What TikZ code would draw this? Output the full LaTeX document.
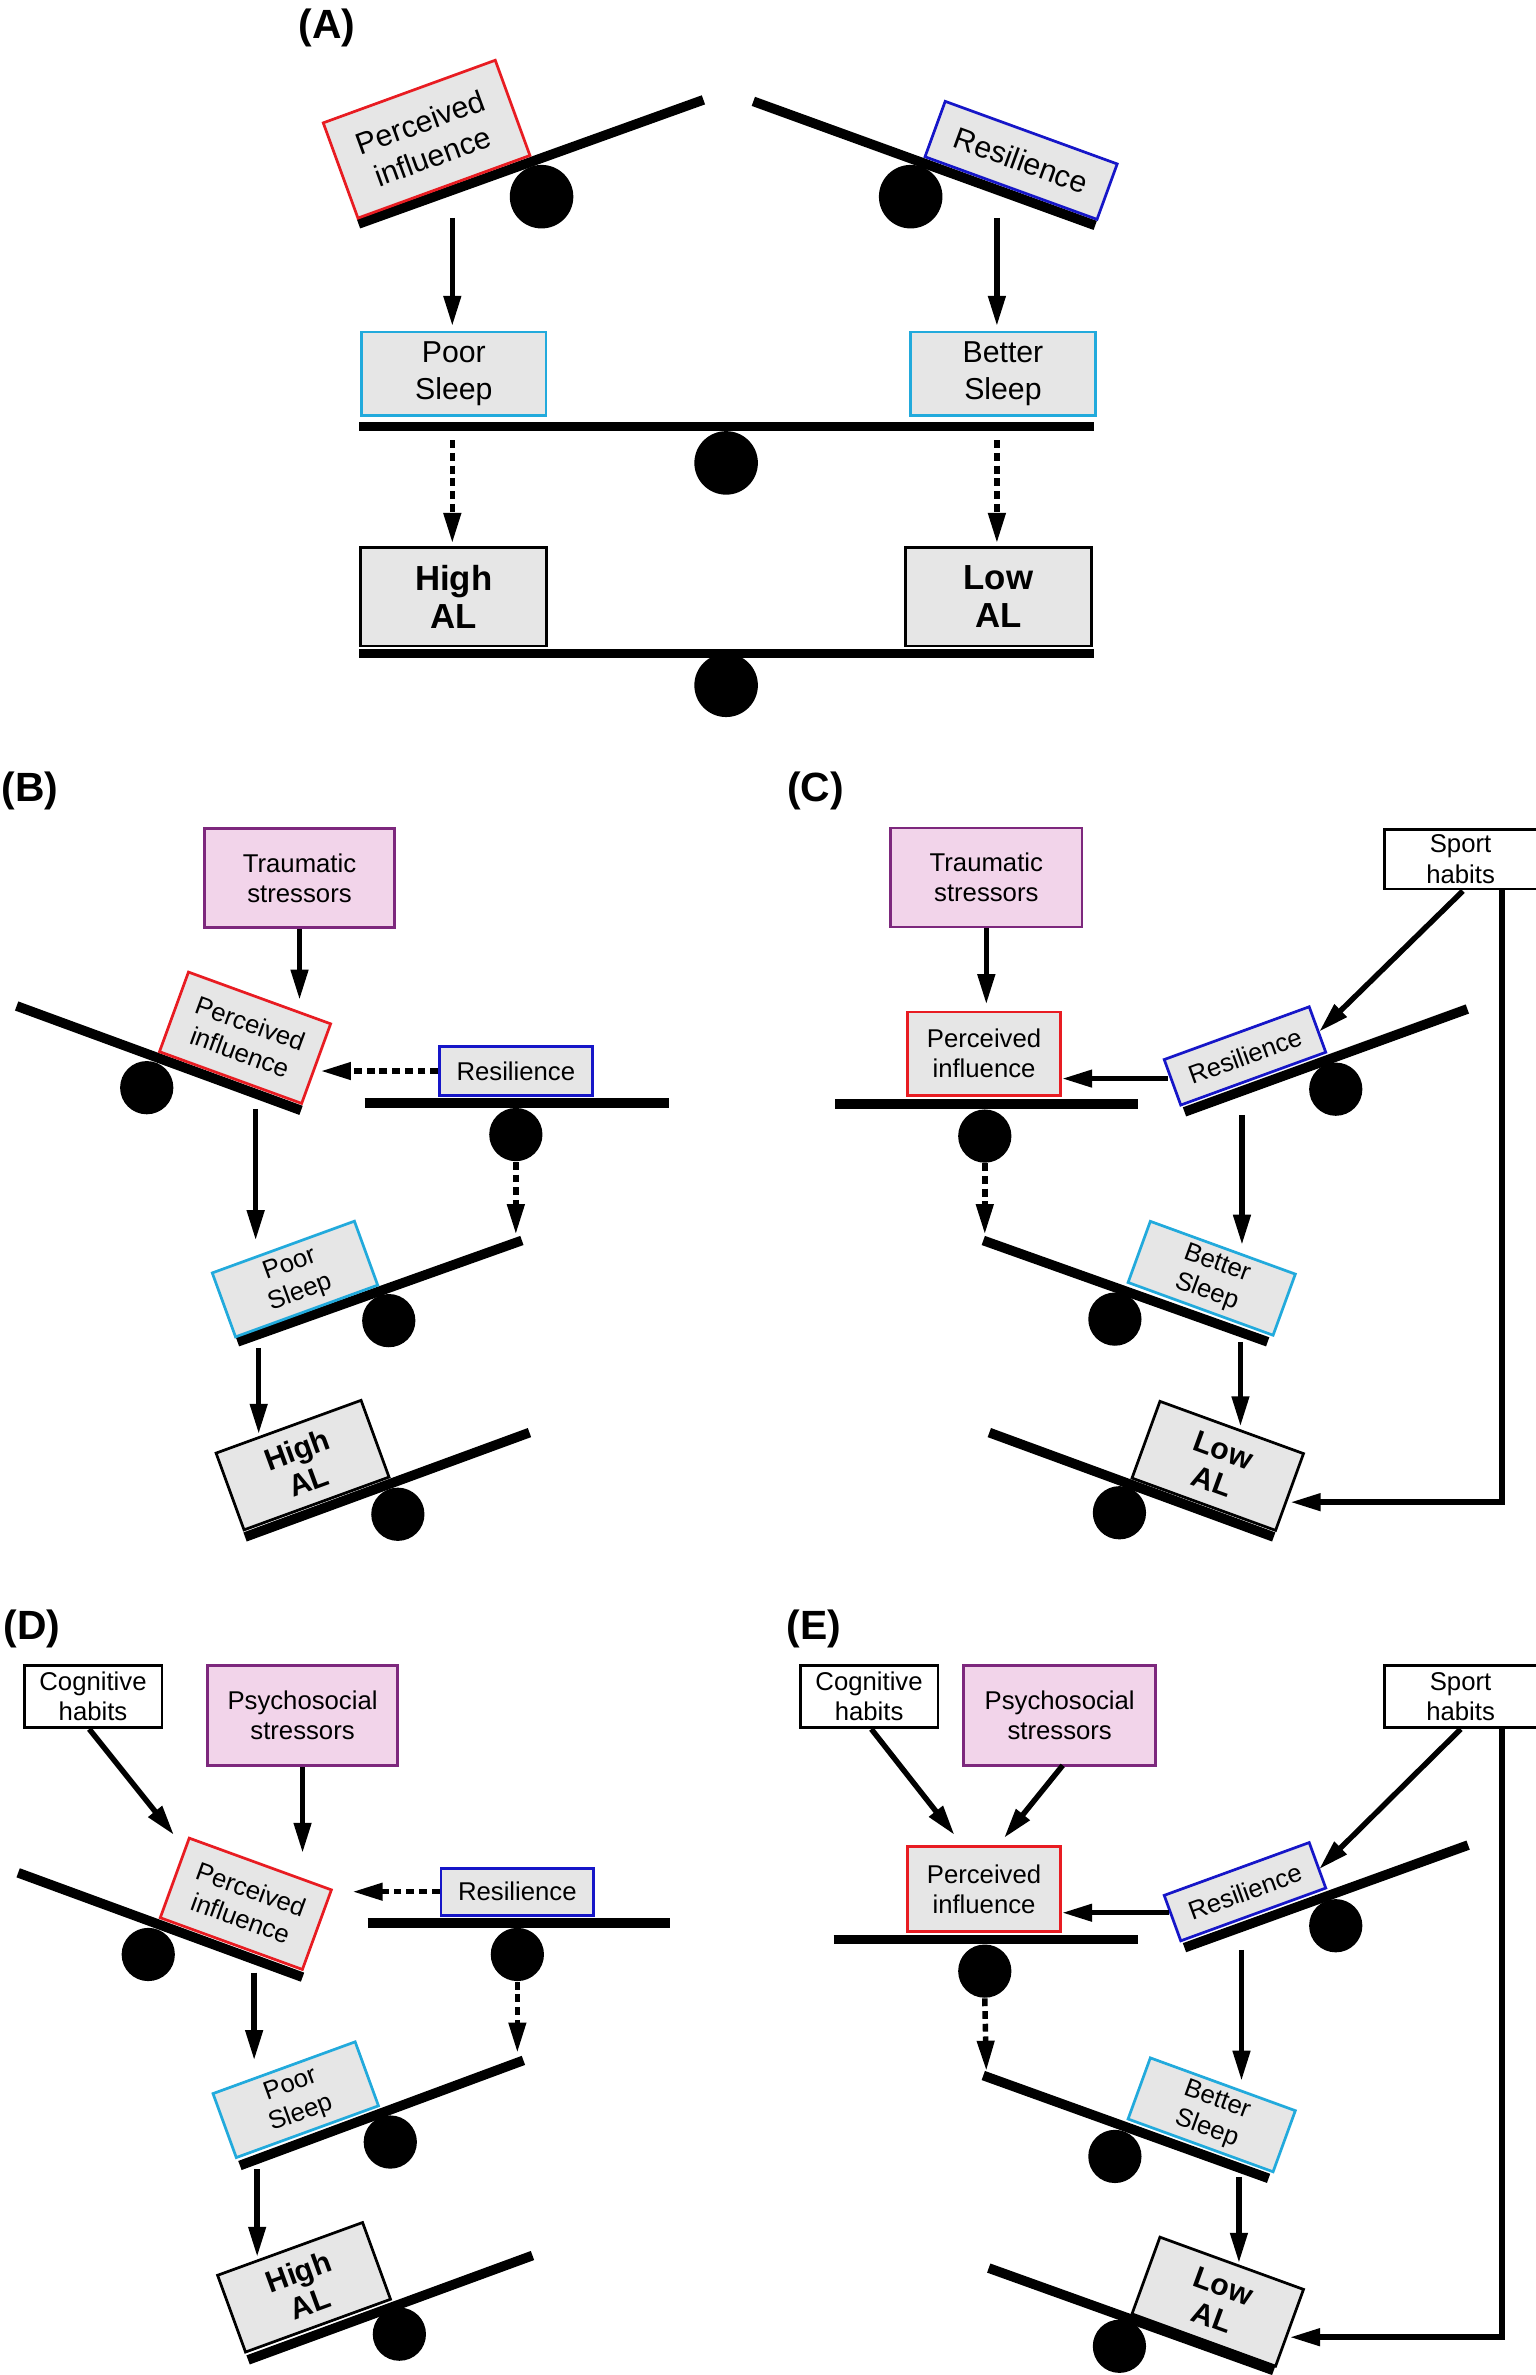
\documentclass[tikz,border=0pt]{standalone}
\usepackage{fontspec}
\setmainfont{Liberation Sans}
\usetikzlibrary{arrows.meta,calc}
\definecolor{boxgray}{RGB}{230,230,230}
\definecolor{pired}{RGB}{232,28,34}
\definecolor{resblue}{RGB}{22,22,200}
\definecolor{sleepcyan}{RGB}{34,170,220}
\definecolor{stressfill}{RGB}{242,212,234}
\definecolor{stressborder}{RGB}{125,40,125}
\tikzset{
  box/.style={draw, fill=boxgray, line width=0.9pt, align=center, inner sep=0pt, font=\fontsize{8.5}{10}\selectfont},
  redbox/.style={box, draw=pired},
  bluebox/.style={box, draw=resblue},
  cyanbox/.style={box, draw=sleepcyan},
  albox/.style={box, draw=black, font=\fontsize{10}{11}\selectfont\bfseries},
  pinkbox/.style={box, draw=stressborder, fill=stressfill},
  habitbox/.style={box, draw=black, fill=white},
  fontA/.style={font=\fontsize{10}{12}\selectfont},
  fontAL/.style={font=\fontsize{11.5}{12.5}\selectfont\bfseries},
  lever/.style={line width=3.2pt},
  ballA/.style={circle, fill=black, inner sep=0pt, minimum size=21pt},
  ball/.style={circle, fill=black, inner sep=0pt, minimum size=17.6pt},
  arr/.style={line width=1.8pt, -{Triangle[length=10pt,width=5.5pt]}},
  darr/.style={arr, dash pattern=on 2.6pt off 1.6pt},
  panel/.style={font=\fontsize{13.5}{14}\selectfont\bfseries, inner sep=0pt}
}
\begin{document}
\begin{tikzpicture}[x=0.5pt,y=-0.5pt]
\useasboundingbox (0,0) rectangle (1015,1570);

% ================= Panel A =================
\node[panel] (lblA) at (216,18.5) {(A)};
\coordinate (LA1a) at (237,148); \coordinate (LA1b) at (465,66);
\coordinate (LA2a) at (498,67);  \coordinate (LA2b) at (724,149);
\draw[lever] (LA1a) -- (LA1b);
\draw[lever] (LA2a) -- (LA2b);
\node[ballA] (BA1) at (358,130) {};
\node[ballA] (BA2) at (602,130) {};
\node[redbox, fontA, rotate=20, minimum width=60.5pt, minimum height=33.5pt] (PIA) at (282,92) {Perceived\\influence};
\node[bluebox, fontA, rotate=-20, minimum width=60.5pt, minimum height=19.5pt] (RA) at (675,106) {Resilience};
\node[cyanbox, fontA, minimum width=61pt, minimum height=27.5pt] (PSA) at (300,247) {Poor\\Sleep};
\node[cyanbox, fontA, minimum width=61pt, minimum height=27.5pt] (BSA) at (663,247) {Better\\Sleep};
\coordinate (LA3a) at (237.5,282); \coordinate (LA3b) at (723.5,282);
\draw[lever] (LA3a) -- (LA3b);
\node[ballA] (BA3) at (480,306) {};
\node[albox, fontAL, minimum width=61.5pt, minimum height=32.5pt] (HAA) at (300,394.5) {High\\AL};
\node[albox, fontAL, minimum width=61.5pt, minimum height=32.5pt] (LAA) at (660,394.5) {Low\\AL};
\coordinate (LA4a) at (237.5,432); \coordinate (LA4b) at (723.5,432);
\draw[lever] (LA4a) -- (LA4b);
\node[ballA] (BA4) at (480,453) {};
\coordinate (aA1) at (299,144);
\coordinate (aA2) at (659,144);
\draw[arr, shorten >=1.5pt] (aA1) -- (aA1 |- PSA.north);
\draw[arr, shorten >=1.5pt] (aA2) -- (aA2 |- BSA.north);
\coordinate (dA1) at (299,291);
\coordinate (dA2) at (659,291);
\draw[darr, shorten >=1pt] (dA1) -- (dA1 |- HAA.north);
\draw[darr, shorten >=1pt] (dA2) -- (dA2 |- LAA.north);

% ================= Panel B =================
\node[panel] (lblB) at (20,523) {(B)};
\node[pinkbox, minimum width=63pt, minimum height=32.75pt] (TSB) at (198,580.5) {Traumatic\\stressors};
\coordinate (LB1a) at (11,665); \coordinate (LB1b) at (199,734);
\draw[lever] (LB1a) -- (LB1b);
\node[ball] (BB1) at (97,719) {};
\node[redbox, rotate=-20, minimum width=50pt, minimum height=28pt] (PIB) at (162,686) {Perceived\\influence};
\coordinate (tB1) at (198,661);
\draw[arr] (TSB.south) -- (tB1);
\coordinate (LB2a) at (241,729); \coordinate (LB2b) at (442,729);
\draw[lever] (LB2a) -- (LB2b);
\node[ball] (BB2) at (341,750) {};
\node[bluebox, minimum width=50.5pt, minimum height=16pt] (RB) at (341,708) {Resilience};
\coordinate (tB2) at (212,708);
\draw[darr] (RB.west) -- (tB2);
\coordinate (sB3) at (169,733); \coordinate (tB3) at (169,820);
\draw[arr] (sB3) -- (tB3);
\coordinate (tB4) at (341,816);
\draw[darr] (BB2.south) -- (tB4);
\coordinate (LB3a) at (157,887); \coordinate (LB3b) at (345,820);
\draw[lever] (LB3a) -- (LB3b);
\node[ball] (BB3) at (257,873) {};
\node[cyanbox, rotate=20, minimum width=50pt, minimum height=22.5pt] (PSB) at (195,845.5) {Poor\\Sleep};
\coordinate (sB5) at (171,891); \coordinate (tB5) at (171,948);
\draw[arr] (sB5) -- (tB5);
\coordinate (LB4a) at (162,1016); \coordinate (LB4b) at (350,947);
\draw[lever] (LB4a) -- (LB4b);
\node[ball] (BB4) at (263,1001) {};
\node[albox, rotate=20, minimum width=51pt, minimum height=27pt] (HAB) at (200,968.5) {High\\AL};

% ================= Panel C =================
\node[panel] (lblC) at (539,523) {(C)};
\node[pinkbox, minimum width=63.25pt, minimum height=32.75pt] (TSC) at (652,580) {Traumatic\\stressors};
\node[redbox, minimum width=50.5pt, minimum height=27.5pt] (PIC) at (650.5,696.5) {Perceived\\influence};
\coordinate (tC1) at (652,664);
\draw[arr] (TSC.south) -- (tC1);
\coordinate (LC1a) at (552,730); \coordinate (LC1b) at (752,730);
\draw[lever] (LC1a) -- (LC1b);
\node[ball] (BC1) at (651,751) {};
\coordinate (tC2) at (651,816);
\draw[darr] (BC1.south) -- (tC2);
\node[habitbox, minimum width=50.5pt, minimum height=19.75pt] (SHC) at (965.5,568) {Sport\\habits};
\coordinate (LC2a) at (783,735); \coordinate (LC2b) at (970,667);
\draw[lever] (LC2a) -- (LC2b);
\node[ball] (BC2) at (883,720) {};
\node[bluebox, rotate=20, minimum width=51pt, minimum height=16pt] (RC) at (823,698) {Resilience};
\coordinate (sC3) at (967,589); \coordinate (tC3) at (872,682);
\draw[arr] (sC3) -- (tC3);
\coordinate (sC4) at (772,713); \coordinate (tC4) at (702,713);
\draw[arr] (sC4) -- (tC4);
\coordinate (sC5) at (821,737); \coordinate (tC5) at (821,823);
\draw[arr] (sC5) -- (tC5);
\coordinate (LC3a) at (650,820); \coordinate (LC3b) at (838,887);
\draw[lever] (LC3a) -- (LC3b);
\node[ball] (BC3) at (737,872) {};
\node[cyanbox, rotate=-20, minimum width=51pt, minimum height=21.5pt] (BSC) at (801,845) {Better\\Sleep};
\coordinate (sC6) at (820,887); \coordinate (tC6) at (820,943);
\draw[arr] (sC6) -- (tC6);
\coordinate (LC4a) at (654,947); \coordinate (LC4b) at (842,1016);
\draw[lever] (LC4a) -- (LC4b);
\node[ball] (BC4) at (740,1000) {};
\node[albox, rotate=-20, minimum width=50.5pt, minimum height=27pt] (LAC) at (805,969) {Low\\AL};
\coordinate (tC7) at (853,993);
\draw[arr, rounded corners=0pt] ([xshift=-12pt]SHC.south east) |- (tC7);

% ================= Panel D =================
\node[panel] (lblD) at (21,1076.5) {(D)};
\node[habitbox, minimum width=45.5pt, minimum height=20.5pt] (CHD) at (61.5,1121.5) {Cognitive\\habits};
\node[pinkbox, minimum width=63pt, minimum height=33pt] (PSD) at (200,1134) {Psychosocial\\stressors};
\coordinate (LD1a) at (12,1238); \coordinate (LD1b) at (200,1307);
\draw[lever] (LD1a) -- (LD1b);
\node[ball] (BD1) at (98,1292) {};
\node[redbox, rotate=-20, minimum width=50pt, minimum height=28pt] (PID) at (162.5,1258.5) {Perceived\\influence};
\coordinate (sD1) at (59,1143); \coordinate (tD1) at (115,1213);
\draw[arr] (sD1) -- (tD1);
\coordinate (tD2) at (200,1225);
\draw[arr] (PSD.south) -- (tD2);
\coordinate (LD2a) at (243,1271); \coordinate (LD2b) at (443,1271);
\draw[lever] (LD2a) -- (LD2b);
\node[ball] (BD2) at (342,1292) {};
\node[bluebox, minimum width=50.5pt, minimum height=15.5pt] (RD) at (342,1250.5) {Resilience};
\coordinate (tD3) at (233,1250.5);
\draw[darr] (RD.west) -- (tD3);
\coordinate (tD4) at (342,1357);
\draw[darr] (BD2.south) -- (tD4);
\coordinate (sD5) at (168,1304); \coordinate (tD5) at (168,1362);
\draw[arr] (sD5) -- (tD5);
\coordinate (LD3a) at (158.6,1431.5); \coordinate (LD3b) at (346,1362);
\draw[lever] (LD3a) -- (LD3b);
\node[ball] (BD3) at (258,1416) {};
\node[cyanbox, rotate=20, minimum width=50pt, minimum height=22.5pt] (PSlD) at (195.5,1388) {Poor\\Sleep};
\coordinate (sD6) at (170,1434); \coordinate (tD6) at (170,1492);
\draw[arr] (sD6) -- (tD6);
\coordinate (LD4a) at (164,1560); \coordinate (LD4b) at (352,1491);
\draw[lever] (LD4a) -- (LD4b);
\node[ball] (BD4) at (264,1543) {};
\node[albox, rotate=20, minimum width=51pt, minimum height=27pt] (HAD) at (201,1512) {High\\AL};

% ================= Panel E =================
\node[panel] (lblE) at (538,1076.5) {(E)};
\node[habitbox, minimum width=45.5pt, minimum height=20.5pt] (CHE) at (574.5,1121.5) {Cognitive\\habits};
\node[pinkbox, minimum width=63.5pt, minimum height=33pt] (PSE) at (700.5,1134) {Psychosocial\\stressors};
\node[habitbox, minimum width=50.5pt, minimum height=20.5pt] (SHE) at (965.5,1121.5) {Sport\\habits};
\node[redbox, minimum width=50.5pt, minimum height=28pt] (PIE) at (650.5,1248.7) {Perceived\\influence};
\coordinate (sE1) at (576,1143); \coordinate (tE1) at (631,1213);
\draw[arr] (sE1) -- (tE1);
\coordinate (sE2) at (702.5,1167); \coordinate (tE2) at (663.7,1215);
\draw[arr] (sE2) -- (tE2);
\coordinate (LE1a) at (551,1282); \coordinate (LE1b) at (752,1282);
\draw[lever] (LE1a) -- (LE1b);
\node[ball] (BE1) at (651,1303) {};
\coordinate (tE3) at (652,1369);
\draw[darr] (BE1.south) -- (tE3);
\coordinate (LE2a) at (783,1287.5); \coordinate (LE2b) at (970.5,1219.7);
\draw[lever] (LE2a) -- (LE2b);
\node[ball] (BE2) at (883,1273) {};
\node[bluebox, rotate=20, minimum width=51pt, minimum height=16pt] (RE) at (823,1250.5) {Resilience};
\coordinate (sE4) at (772.5,1264.4); \coordinate (tE4) at (702,1264.4);
\draw[arr] (sE4) -- (tE4);
\coordinate (sE5) at (965.6,1143); \coordinate (tE5) at (872,1235.6);
\draw[arr] (sE5) -- (tE5);
\coordinate (sE6) at (820.7,1289); \coordinate (tE6) at (820.7,1375.6);
\draw[arr] (sE6) -- (tE6);
\coordinate (LE3a) at (650,1372); \coordinate (LE3b) at (838.6,1440);
\draw[lever] (LE3a) -- (LE3b);
\node[ball] (BE3) at (737,1425.5) {};
\node[cyanbox, rotate=-20, minimum width=51pt, minimum height=21.5pt] (BSE) at (801,1398) {Better\\Sleep};
\coordinate (sE7) at (819,1439); \coordinate (tE7) at (819,1496);
\draw[arr] (sE7) -- (tE7);
\coordinate (LE4a) at (653.6,1499.3); \coordinate (LE4b) at (842,1567);
\draw[lever] (LE4a) -- (LE4b);
\node[ball] (BE4) at (740,1551) {};
\node[albox, rotate=-20, minimum width=50.5pt, minimum height=27pt] (LAE) at (805,1521.5) {Low\\AL};
\coordinate (tE8) at (852.6,1545);
\draw[arr] ([xshift=-12pt]SHE.south east) |- (tE8);
\end{tikzpicture}
\end{document}
